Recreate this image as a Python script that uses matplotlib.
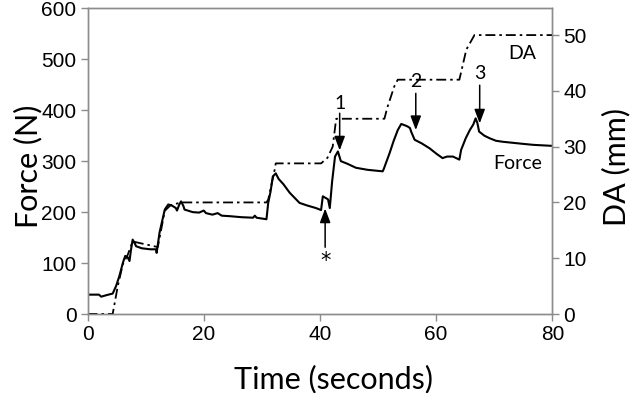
import matplotlib
matplotlib.use("Agg")
import matplotlib.pyplot as plt

# ---- data ----
force_t = [0, 1.97, 2.36, 2.95, 3.93, 4.33, 4.92, 5.5, 6.1, 6.49, 6.88, 7.23, 7.47, 7.77,
           8.16, 8.36, 9.34, 10.8, 11.8, 11.9, 12.4, 13.3, 13.9, 14.5, 15.2, 15.4, 15.8,
           16.1, 16.5, 16.7, 18.1, 19.2, 20.0, 20.4, 21.5, 22.4, 23.1, 24.5, 26.5, 28.5,
           28.8, 29.1, 30.8, 31.1, 31.5, 31.9, 32.4, 32.9, 33.7, 34.8, 35.9, 36.5, 37.8,
           39.3, 40.2, 40.5, 41.4, 41.7, 42.1, 42.6, 43.1, 43.6, 44.7, 46.2, 48.2, 50.8,
           51.0, 52.0, 52.7, 53.4, 54.0, 54.7, 55.1, 55.5, 55.7, 56.3, 57.5, 58.9, 60.0,
           61.1, 61.9, 62.9, 64.0, 64.3, 65.1, 65.8, 66.4, 66.8, 67.1, 67.4, 68.3, 69.2,
           70.3, 71.5, 73.2, 74.9, 76.7, 80.0]
force_n = [38, 38, 34, 36, 39, 40, 55, 75, 101, 114, 112, 104, 125, 146,
           138, 133, 129, 127, 127, 120, 160, 205, 215, 213, 208, 203, 215,
           221, 212, 205, 200, 199, 203, 198, 195, 198, 193, 192, 190, 189,
           193, 189, 186, 218, 240, 270, 276, 265, 255, 238, 225, 218, 213,
           208, 204, 231, 225, 208, 260, 309, 319, 300, 295, 287, 283, 280,
           285, 316, 340, 361, 373, 370, 368, 365, 358, 342, 335, 325, 315,
           306, 309, 309, 303, 322, 345, 361, 372, 384, 375, 358, 350, 345,
           340, 338, 336, 334, 332, 330]

da_t = [0, 4.33, 5.21, 6.1, 6.88, 7.77, 12.1, 13.3, 14.3, 16.1, 30.8, 31.1, 32.2, 32.4,
        40.2, 41.3, 42.2, 42.8, 51.1, 51.6, 52.8, 53.4, 64.0, 65.2, 66.6, 80.0]
da_mm = [0, 0, 5, 9, 10.5, 13, 12, 18.5, 19.5, 20, 20, 20.5, 25.8, 27,
         27, 28, 30, 35, 35, 37, 40.8, 42, 42, 47.4, 50, 50]

x_ticks = [0, 20, 40, 60, 80]
force_ticks = [0, 100, 200, 300, 400, 500, 600]
da_ticks = [0, 10, 20, 30, 40, 50]

# annotations: (label, time, label_force, arrow_from_force, arrow_to_force)
marks = [("1", 43.4, 414, 394, 321),
         ("2", 56.5, 456, 433, 361),
         ("3", 67.5, 473, 449, 374)]
star = ("*", 40.9, 104, 131, 207)

# ---- plot ----
fig = plt.figure(figsize=(6.3, 3.93), dpi=100)
ax = fig.add_axes([0.1389, 0.201, 0.7378, 0.7779])
ax2 = ax.twinx()

gray = "#8c8c8c"
tick_font = "Liberation Sans"
label_font = "Lato"

ax.plot(force_t, force_n, color="black", lw=1.5)
ax2.plot(da_t, da_mm, color="black", lw=1.3, linestyle=(0, (5.5, 2.2, 1.4, 2.2)))

ax.set_xlim(0, 80)
ax.set_ylim(0, 600)
ax2.set_ylim(0, 54.8)
ax.set_xticks(x_ticks)
ax.set_yticks(force_ticks)
ax2.set_yticks(da_ticks)

for a in (ax, ax2):
    for s in a.spines.values():
        s.set_color(gray)
        s.set_linewidth(1.0)
    a.tick_params(direction="out", length=5, width=1, color=gray,
                  labelsize=15, pad=3)
    for lab in a.get_xticklabels() + a.get_yticklabels():
        lab.set_fontfamily(tick_font)

fig.text(0.529, 0.012, "Time (seconds)", fontsize=22, fontfamily=label_font,
         ha="center", va="baseline")
fig.text(0.0444, 0.576, "Force (N)", fontsize=22, fontfamily=label_font,
         ha="center", va="center", rotation=90)
fig.text(0.978, 0.574, "DA (mm)", fontsize=22, fontfamily=label_font,
         ha="center", va="center", rotation=90)

arrow_kw = dict(arrowstyle="-|>,head_length=0.85,head_width=0.32", color="black",
                lw=1.1, shrinkA=0, shrinkB=0)
for lab, t, ly, y0, y1 in marks:
    ax.annotate("", xy=(t, y1), xytext=(t, y0), arrowprops=arrow_kw)
    ax.text(t, ly, lab, ha="center", va="center", fontsize=14, fontfamily=label_font)
lab, t, ly, y0, y1 = star
ax.annotate("", xy=(t, y1), xytext=(t, y0), arrowprops=arrow_kw)
ax.text(t, ly, lab, ha="center", va="center", fontsize=15, fontfamily="DejaVu Sans")

ax.text(74.9, 512, "DA", ha="center", va="center", fontsize=14, fontfamily=label_font)
ax.text(74.1, 296, "Force", ha="center", va="center", fontsize=14, fontfamily=label_font)

fig.savefig("out.png", dpi=100)
